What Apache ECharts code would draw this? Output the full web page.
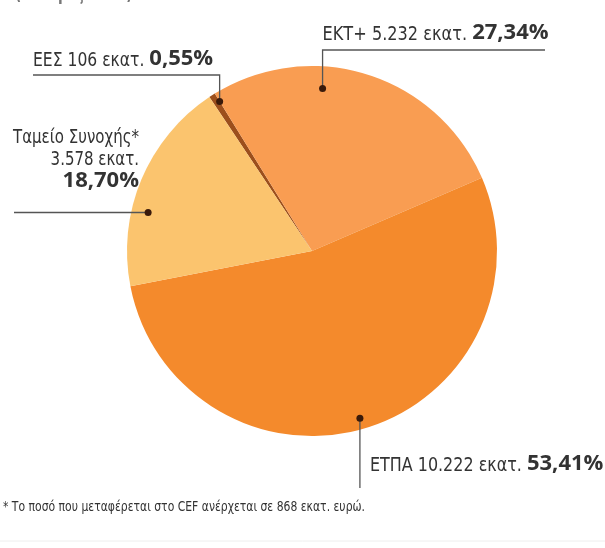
<!DOCTYPE html>
<html><head><meta charset="utf-8">
<script src="https://cdn.jsdelivr.net/npm/echarts@6/dist/echarts.min.js"></script>
<style>html,body{margin:0;padding:0;background:#fff}#c{width:605px;height:548px}</style>
</head><body><div id="c"></div>
<script>
var categories = ['ΕΕΣ', 'ΕΚΤ+', 'ΕΤΠΑ', 'Ταμείο Συνοχής'];
var values = [106, 5232, 10222, 3578];
var amountLabels = ['106', '5.232', '10.222', '3.578'];
var percentLabels = ['0,55%', '27,34%', '53,41%', '18,70%'];
var colors = ['#9c4f1c', '#f99d52', '#f48a2c', '#fbc46e'];
var footnote = '* Το ποσό που μεταφέρεται στο CEF ανέρχεται σε 868 εκατ. ευρώ.';
var topNote = '(σε τιμές 2015)';

var CX = 312, CY = 251, R = 185, START = 123.7;
// dot placement inside each slice (fraction along slice, fraction of radius)
var dotPos = [[1.0, 0.95], [0.36, 0.88], [0.506, 0.94], [0.36, 0.91]];

var total = values.reduce(function(a, b){ return a + b; }, 0);
var dots = [];
var acc = 0;
for (var i = 0; i < values.length; i++) {
  var a0 = START - acc / total * 360;
  var span = values[i] / total * 360;
  var ang = (a0 - span * dotPos[i][0]) * Math.PI / 180;
  var rr = R * dotPos[i][1];
  dots.push([CX + rr * Math.cos(ang), CY - rr * Math.sin(ang)]);
  acc += values[i];
}

var REG = '"DejaVu Sans", sans-serif';
var BOLD = '"Open Sans", "Noto Sans", sans-serif';
var REG_SIZE = 19, BOLD_SIZE = 22, SX = 0.85;
var ctx = document.createElement('canvas').getContext('2d');
function measure(s, font){ ctx.font = font; return ctx.measureText(s).width; }
var regFont = REG_SIZE + 'px ' + REG;
var boldFont = 'bold ' + BOLD_SIZE + 'px ' + BOLD;

var lineStyle = { stroke: '#555', lineWidth: 1.3 };
var graphics = [];
function dot(p){ graphics.push({ type: 'circle', shape: { cx: p[0], cy: p[1], r: 3.5 }, style: { fill: '#3a1a0a' }, z: 20 }); }
function poly(pts){ graphics.push({ type: 'polyline', shape: { points: pts }, style: lineStyle, z: 19 }); }
function regText(x, y, s, align, sx){
  graphics.push({ type: 'text', x: x, y: y, scaleX: sx || SX, z: 21,
    style: { x: 0, y: 0, text: s, font: regFont, fill: '#333', align: align || 'left', verticalAlign: 'middle' } });
}
function boldText(x, y, s, align){
  graphics.push({ type: 'text', x: x, y: y - 2, z: 21,
    style: { x: 0, y: 0, text: s, font: boldFont, fill: '#333', align: align || 'left', verticalAlign: 'middle' } });
}
function label(x, y, reg, bold, sx){
  regText(x, y, reg, 'left', sx);
  boldText(x + measure(reg, regFont) * (sx || SX), y, bold);
}

// ΕΕΣ
var d = dots[0];
poly([[d[0], d[1]], [d[0], 75], [33, 75]]);
dot(d);
label(33, 61, categories[0] + ' ' + amountLabels[0] + ' εκατ. ', percentLabels[0], 0.82);
// ΕΚΤ+
d = dots[1];
poly([[d[0], d[1]], [d[0], 50], [545, 50]]);
dot(d);
label(d[0], 35, categories[1] + ' ' + amountLabels[1] + ' εκατ. ', percentLabels[1]);
// ΕΤΠΑ
d = dots[2];
poly([[d[0], d[1]], [d[0], 488]]);
dot(d);
label(d[0] + 10, 466, categories[2] + ' ' + amountLabels[2] + ' εκατ. ', percentLabels[2], 0.84);
// Ταμείο Συνοχής
d = dots[3];
poly([[d[0], d[1]], [14, d[1]]]);
dot(d);
regText(139, 138, categories[3] + '*', 'right', 0.79);
regText(139, 160, amountLabels[3] + ' εκατ.', 'right', 0.79);
boldText(139, 183, percentLabels[3], 'right');
// footnote
var fnFont = '14px ' + REG;
graphics.push({ type: 'text', x: 3, y: 507, scaleX: 362 / measure(footnote, fnFont),
  style: { x: 0, y: 0, text: footnote, font: fnFont, fill: '#333', verticalAlign: 'middle' } });
graphics.push({ type: 'text', x: 15, y: -4, scaleX: 0.8,
  style: { x: 0, y: 0, text: topNote, font: 'bold 17px ' + REG, fill: '#777', verticalAlign: 'middle' } });
graphics.push({ type: 'line', shape: { x1: 0, y1: 541, x2: 605, y2: 541 }, style: { stroke: '#eeeeee', lineWidth: 1 } });

var chart = echarts.init(document.getElementById('c'), null, { renderer: 'canvas' });
chart.setOption({
  animation: false,
  backgroundColor: '#fff',
  series: [{
    type: 'pie',
    center: [CX, CY],
    radius: [0, R],
    startAngle: START,
    clockwise: true,
    avoidLabelOverlap: false,
    label: { show: false },
    labelLine: { show: false },
    emphasis: { disabled: true },
    itemStyle: { borderWidth: 0 },
    data: categories.map(function(c, i){ return { name: c, value: values[i], itemStyle: { color: colors[i] } }; })
  }],
  graphic: graphics
});
</script></body></html>
